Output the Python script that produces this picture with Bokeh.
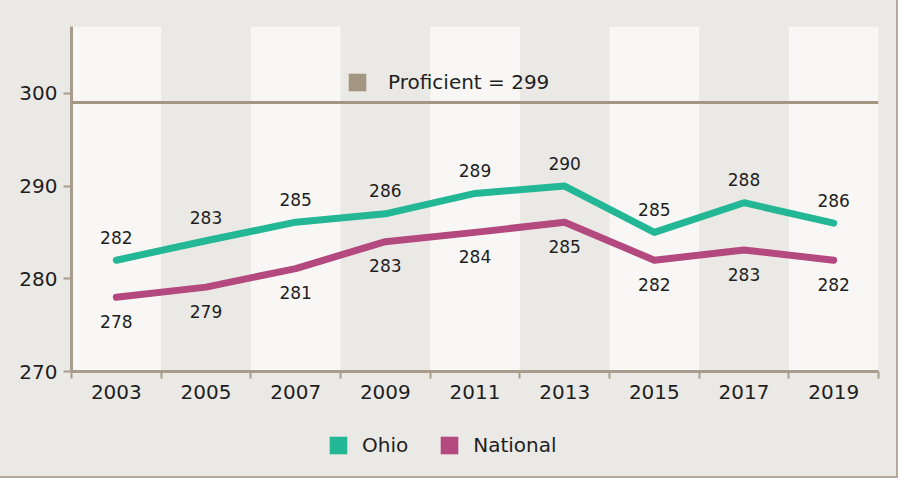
from bokeh.plotting import figure
from bokeh.layouts import column
from bokeh.models import Range1d, FixedTicker, Span, BoxAnnotation, Legend, LegendItem
from bokeh.embed import file_html
from bokeh.resources import INLINE
from bokeh.core.properties import value

# ---- data ----
years = ["2003", "2005", "2007", "2009", "2011", "2013", "2015", "2017", "2019"]
ohio = [282.0, 284.1, 286.1, 287.0, 289.2, 290.0, 285.0, 288.2, 286.0]
ohio_labels = [282, 283, 285, 286, 289, 290, 285, 288, 286]
national = [278.0, 279.1, 281.1, 284.0, 285.0, 286.1, 282.0, 283.1, 282.0]
national_labels = [278, 279, 281, 283, 284, 285, 282, 283, 282]
proficient = 299
y_ticks = [270, 280, 290, 300]
y_min, y_max = 270, 307.2

# ---- styles ----
FONT = "DejaVu Sans"
DARK = "#EBE9E5"
LIGHT = "#F8F7F5"
AXIS = "#A89C8C"
PROF = "#A39683"
TEAL = "#23B795"
MAG = "#B4497F"
TXT = "#1E1E1E"
NAN = float("nan")

n = len(years)
x = [i + 0.5 for i in range(n)]

p = figure(width=896, height=430, output_backend="svg", toolbar_location=None,
           x_range=Range1d(0, n), y_range=Range1d(y_min, y_max),
           min_border_left=71, min_border_right=18, min_border_top=26, min_border_bottom=59,
           background_fill_color=DARK, border_fill_color=DARK, outline_line_color=None)
p.grid.visible = False

# alternating bands
for i in range(0, n, 2):
    p.add_layout(BoxAnnotation(left=i, right=i + 1, fill_color=LIGHT, fill_alpha=1,
                               line_alpha=0, level="underlay"))

# proficient line
p.add_layout(Span(location=proficient, dimension="width", line_color=PROF, line_width=3))

# series lines
p.line(x, ohio, line_width=7, line_color=TEAL, line_cap="round", line_join="round")
p.line(x, national, line_width=7, line_color=MAG, line_cap="round", line_join="round")

# data labels
p.text(x=x, y=ohio, text=[str(v) for v in ohio_labels], y_offset=-23,
       text_align="center", text_baseline="middle", text_font=value(FONT),
       text_font_size="17px", text_color=TXT)
p.text(x=x, y=national, text=[str(v) for v in national_labels], y_offset=24,
       text_align="center", text_baseline="middle", text_font=value(FONT),
       text_font_size="17px", text_color=TXT)

# axes
xa = p.xaxis[0]
xa.ticker = FixedTicker(ticks=x, minor_ticks=list(range(n + 1)))
xa.major_label_overrides = {xi: yr for xi, yr in zip(x, years)}
xa.major_tick_out = 0
xa.major_tick_in = 0
xa.minor_tick_out = 7
xa.minor_tick_in = 0
xa.minor_tick_line_color = AXIS
xa.minor_tick_line_width = 2
xa.axis_line_color = AXIS
xa.axis_line_width = 3
xa.major_label_text_font = FONT
xa.major_label_text_font_size = "20px"
xa.major_label_text_color = TXT
xa.major_label_standoff = 6

ya = p.yaxis[0]
ya.ticker = FixedTicker(ticks=y_ticks)
ya.major_tick_out = 8
ya.major_tick_in = 0
ya.major_tick_line_color = AXIS
ya.major_tick_line_width = 2
ya.minor_tick_line_color = None
ya.axis_line_color = AXIS
ya.axis_line_width = 3
ya.major_label_text_font = FONT
ya.major_label_text_font_size = "20px"
ya.major_label_text_color = TXT
ya.major_label_standoff = 6

common = dict(glyph_width=22, glyph_height=22, padding=0, margin=0,
              border_line_alpha=0, background_fill_alpha=0,
              label_text_font=FONT, label_text_font_size="20px", label_text_color=TXT)

# "Proficient" key inside the plot
r_prof = p.quad(left=[NAN], right=[NAN], top=[NAN], bottom=[NAN], fill_color=PROF, line_color=None)
leg1 = Legend(items=[LegendItem(label=f"Proficient = {proficient}", renderers=[r_prof])],
              location=(275, 277), label_standoff=20, **common)
p.add_layout(leg1)

# bottom legend strip (transparent; the column provides the background)
p2 = figure(width=896, height=46, output_backend="svg", toolbar_location=None,
            x_range=Range1d(0, 1), y_range=Range1d(0, 1),
            x_axis_location=None, y_axis_location=None,
            min_border_left=0, min_border_right=0, min_border_top=0, min_border_bottom=0,
            background_fill_alpha=0, border_fill_alpha=0, outline_line_color=None)
p2.grid.visible = False
r_ohio = p2.quad(left=[NAN], right=[NAN], top=[NAN], bottom=[NAN], fill_color=TEAL, line_color=None)
r_nat = p2.quad(left=[NAN], right=[NAN], top=[NAN], bottom=[NAN], fill_color=MAG, line_color=None)
leg2 = Legend(items=[LegendItem(label="Ohio", renderers=[r_ohio]),
                     LegendItem(label="National", renderers=[r_nat])],
              location=(256, 19), orientation="horizontal", spacing=30,
              label_standoff=13, **common)
p2.add_layout(leg2)

layout = column(p, p2, spacing=0)
layout.styles = {"outline": "2px solid #B5A898", "background-color": DARK}

open("out.html", "w").write(file_html(layout, INLINE))
